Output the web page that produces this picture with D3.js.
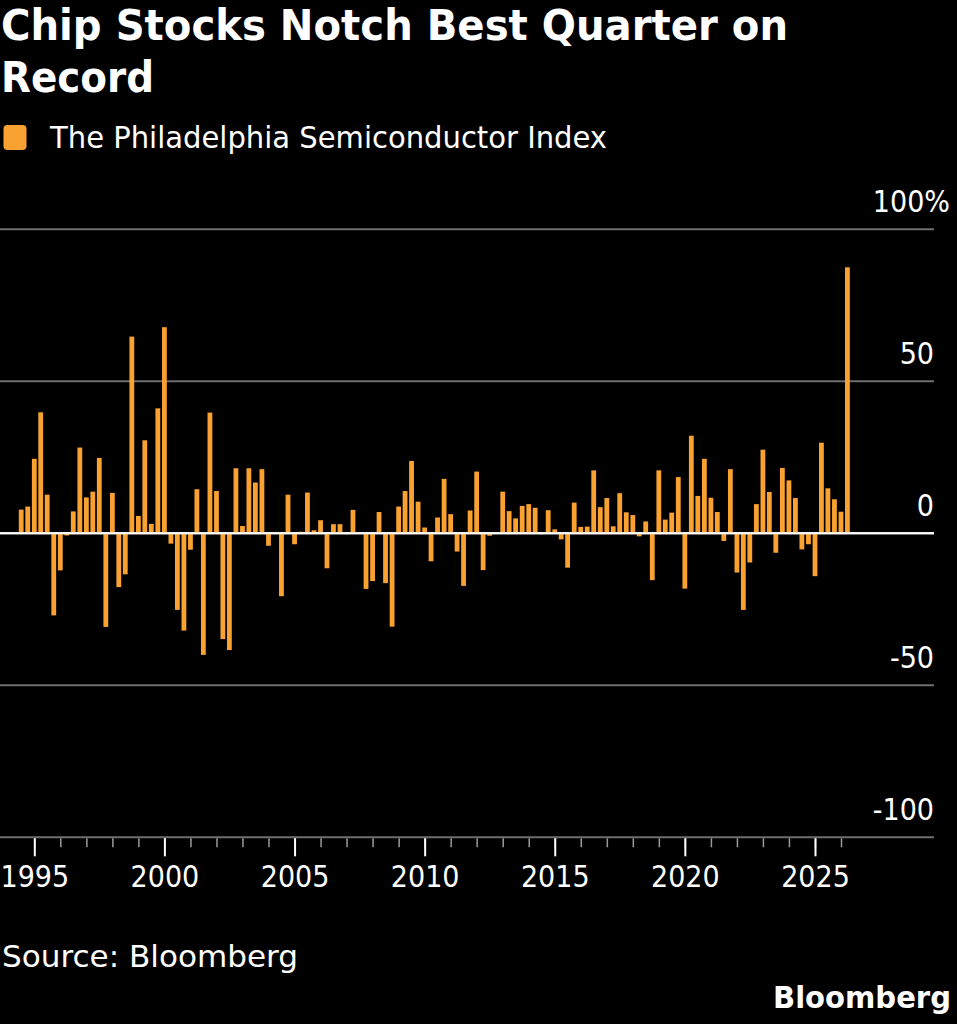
<!DOCTYPE html>
<html>
<head>
<meta charset="utf-8">
<script src="https://cdn.jsdelivr.net/npm/d3@7"></script>
<style>
  html, body { margin: 0; padding: 0; background: #000; }
  svg { display: block; }
  text { fill: #fff; font-family: "DejaVu Sans Condensed", "DejaVu Sans", sans-serif; font-stretch: condensed; }
</style>
</head>
<body>
<div id="chart"></div>
<script>
// quarterly % change, Philadelphia Semiconductor Index, first bar = Q2 1994
var firstQuarter = new Date(1994, 6, 1);
var changes = [
  7.8, 8.8, 24.5, 39.8, 12.7, -27.0, -12.2, -0.7, 7.2, 28.2,
  11.8, 13.7, 24.8, -30.8, 13.3, -17.7, -13.5, 64.7, 5.7, 30.6,
  3.1, 41.1, 67.8, -3.4, -25.2, -32.0, -5.4, 14.5,
  -40.0, 39.7, 13.9, -34.8, -38.4, 21.4, 2.4, 21.4, 16.7, 21.1,
  -4.1, 0.2, -20.7, 12.7, -3.6, 0.5, 13.4, 1.0, 4.3, -11.5,
  3.0, 3.0, -0.3, 7.7, 0.3, -18.3, -15.7, 7.0,
  -16.4, -30.7, 8.8, 13.9, 23.8, 10.4, 1.9, -9.2, 5.2, 17.9,
  6.3, -6.0, -17.3, 7.5, 20.3, -12.1, -0.8, 0.2, 13.7, 7.3,
  4.9, 9.0, 9.6, 8.4, -0.3, 7.6, 1.3, -2.0,
  -11.3, 10.1, 2.1, 2.2, 20.7, 8.6, 11.6, 2.3, 13.2, 6.9,
  6.0, -1.0, 3.9, -15.4, 20.7, 4.5, 6.8, 18.5, -18.2, 32.1,
  12.3, 24.5, 11.7, 7.0, -2.5, 21.1, -12.9,
  -25.2, -9.6, 9.6, 27.5, 13.6, -6.4, 21.5, 17.4, 11.6, -5.3,
  -3.6, -14.1, 29.8, 14.8, 11.2, 7.1, 87.5
];
var yTicks = [-100, -50, 0, 50, 100];
var majorYears = [1995, 2000, 2005, 2010, 2015, 2020, 2025];
var minorYears = d3.range(1995, 2027);

var titleLines = ["Chip Stocks Notch Best Quarter on", "Record"];
var legendLabel = "The Philadelphia Semiconductor Index";
var sourceLabel = "Source: Bloomberg";

var width = 957, height = 1024;
var orange = "#f9a232";

var svg = d3.select("#chart").append("svg")
  .attr("width", width)
  .attr("height", height);

var bars = changes.map(function(v, i){
  return { date: d3.timeMonth.offset(firstQuarter, i * 3), value: v };
});

var x = d3.scaleTime()
  .domain([new Date(1995, 0, 1), new Date(2025, 0, 1)])
  .range([34.3, 815]);
var y = d3.scaleLinear()
  .domain([-100, 100])
  .range([837.3, 229.3]);

function fit(sel, w){
  sel.attr("textLength", w).attr("lengthAdjust", "spacingAndGlyphs");
}

// title + legend
svg.selectAll(".title").data(titleLines).enter()
  .append("text")
  .attr("class", "title")
  .attr("x", 1)
  .attr("y", function(d, i){ return 40 + i * 52; })
  .attr("font-size", 42)
  .attr("font-weight", "bold")
  .text(function(d){ return d; })
  .each(function(d, i){ fit(d3.select(this), i == 0 ? 787 : 153); });

svg.append("rect")
  .attr("x", 3.5).attr("y", 125)
  .attr("width", 23).attr("height", 25)
  .attr("rx", 4)
  .attr("fill", orange);
svg.append("text")
  .attr("x", 50).attr("y", 148)
  .attr("font-size", 31)
  .text(legendLabel)
  .call(fit, 557);

// gridlines
svg.selectAll(".grid").data(yTicks).enter()
  .append("line")
  .attr("x1", 0).attr("x2", 934)
  .attr("y1", function(d){ return y(d); })
  .attr("y2", function(d){ return y(d); })
  .attr("stroke", function(d){ return d == 0 ? "#ffffff" : "#6e6e6e"; })
  .attr("stroke-width", 2)
  .attr("class", function(d){ return d == 0 ? "zero" : "grid"; });

svg.selectAll(".ylab").data(yTicks).enter()
  .append("text")
  .attr("x", function(d){ return d == 100 ? 950 : 934; })
  .attr("y", function(d){ return y(d) - 17; })
  .attr("text-anchor", "end")
  .attr("font-size", 30)
  .text(function(d){ return d == 100 ? "100%" : d; });

// bars
var bw = 4.8;
svg.append("g").selectAll("rect").data(bars).enter()
  .append("rect")
  .attr("x", function(d){ return x(d.date) - bw / 2; })
  .attr("width", bw)
  .attr("y", function(d){ return y(Math.max(0, d.value)); })
  .attr("height", function(d){ return Math.abs(y(d.value) - y(0)); })
  .attr("fill", orange);

// zero line above bars
svg.append("line")
  .attr("x1", 0).attr("x2", 934)
  .attr("y1", y(0)).attr("y2", y(0))
  .attr("stroke", "#ffffff")
  .attr("stroke-width", 2);

// x axis: minor yearly ticks and labelled 5-year ticks
var minorAxis = d3.axisBottom(x)
  .tickValues(minorYears.map(function(yr){ return new Date(yr, 0, 1); }))
  .tickSize(9)
  .tickSizeOuter(0)
  .tickFormat("");
var majorAxis = d3.axisBottom(x)
  .tickValues(majorYears.map(function(yr){ return new Date(yr, 0, 1); }))
  .tickSize(18)
  .tickSizeOuter(0)
  .tickPadding(9)
  .tickFormat(d3.timeFormat("%Y"));

svg.append("g")
  .attr("transform", "translate(0," + (y(-100) + 1) + ")")
  .call(minorAxis)
  .call(function(g){
    g.select(".domain").remove();
    g.selectAll("line").attr("stroke", "#9a9a9a").attr("stroke-width", 1.5);
  });
svg.append("g")
  .attr("transform", "translate(0," + (y(-100) + 1) + ")")
  .call(majorAxis)
  .call(function(g){
    g.select(".domain").remove();
    g.selectAll("line").attr("stroke", "#ffffff").attr("stroke-width", 2);
    g.selectAll("text")
      .attr("fill", "#fff")
      .attr("font-size", 30)
      .attr("font-family", null);
  });

// footer
svg.append("text")
  .attr("x", 2).attr("y", 967)
  .attr("font-size", 31)
  .text(sourceLabel)
  .call(fit, 296);
svg.append("text")
  .attr("x", 773).attr("y", 1008)
  .attr("font-size", 31)
  .attr("font-weight", "bold")
  .text("Bloomberg")
  .call(fit, 178);
</script>
</body>
</html>
